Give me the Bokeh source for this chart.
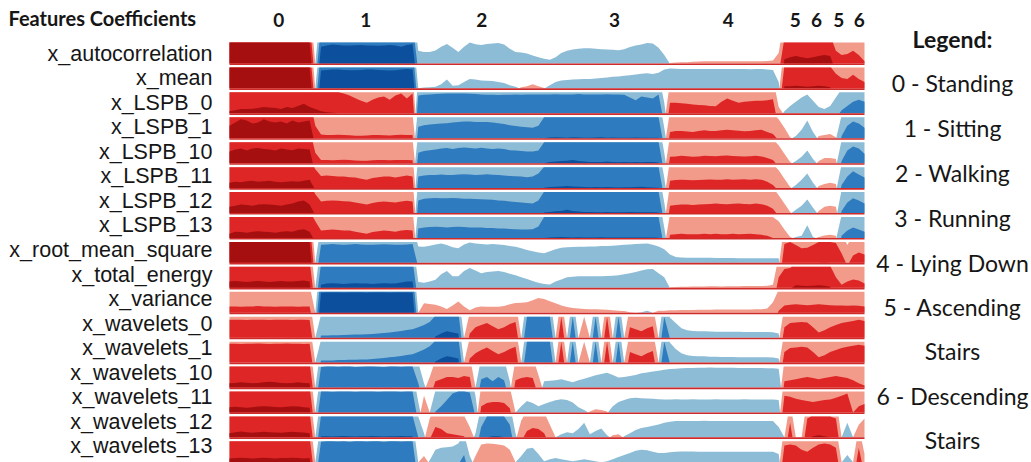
import numpy as np
from bokeh.plotting import figure
from bokeh.models import Range1d
from bokeh.core.properties import value
from bokeh.embed import file_html
from bokeh.resources import INLINE

features = ["x_autocorrelation", "x_mean", "x_LSPB_0", "x_LSPB_1", "x_LSPB_10",
            "x_LSPB_11", "x_LSPB_12", "x_LSPB_13", "x_root_mean_square",
            "x_total_energy", "x_variance", "x_wavelets_0", "x_wavelets_1",
            "x_wavelets_10", "x_wavelets_11", "x_wavelets_12", "x_wavelets_13"]

time_index = list(range(112))

header_labels = ["0", "1", "2", "3", "4", "5", "6", "5", "6"]
header_positions = [8.6, 23.8, 44.1, 67.3, 87.2, 98.9, 102.6, 106.5, 110.1]

legend_lines = ["Legend:", "0 - Standing", "1 - Sitting", "2 - Walking", "3 - Running",
                "4 - Lying Down", "5 - Ascending", "Stairs", "6 - Descending", "Stairs"]

x_autocorrelation = [
    3.0, 3.0, 3.0, 3.0, 3.0, 3.0, 3.0, 3.0, 3.0, 3.0, 3.0, 3.0, 3.0, 3.0, 3.0,
    0.0,
    -2.8, -2.85, -2.9, -2.88, -2.86, -2.85, -2.87, -2.88, -2.86, -2.85, -2.84, -2.86, -2.88, -2.85, -2.8, -2.88, -2.92,
    -0.6, -0.55, -0.55, -0.62, -0.8, -0.93, -0.75, -0.55, -0.8, -1.0, -0.92, -0.88, -0.93, -0.95, -0.97, -0.9, -0.7, -0.55, -0.52, -0.47, -0.38, -0.3,
    -0.22, -0.17, -0.3, -0.5, -0.6, -0.66, -0.7, -0.72, -0.72, -0.7, -0.68, -0.67, -0.65, -0.63, -0.68, -0.78, -0.85, -0.9, -0.97, -0.95, -0.75,
    -0.4,
    0.02, 0.04, 0.05, 0.06, 0.08, 0.09, 0.1, 0.1, 0.1, 0.1, 0.1, 0.1, 0.1, 0.1, 0.1, 0.1, 0.1, 0.11, 0.14,
    0.5, 2.2, 2.3, 2.35, 2.3, 2.25, 2.3, 2.35, 2.4, 2.35, 1.6, 1.4, 1.45, 1.6, 1.4, 1.1]

x_mean = [
    3.0, 3.0, 3.0, 3.0, 3.0, 3.0, 3.0, 3.0, 3.0, 3.0, 3.0, 3.0, 3.0, 3.0, 3.0,
    0.0,
    -2.85, -2.88, -2.9, -2.9, -2.88, -2.87, -2.86, -2.88, -2.9, -2.9, -2.88, -2.86, -2.85, -2.87, -2.9, -2.92, -2.9,
    0.0, -0.04, -0.05, -0.08, -0.2, -0.42, -0.12, -0.15, -0.3, -0.45, -0.42, -0.38, -0.36, -0.35, -0.3, -0.25, -0.15, -0.08, 0.05, 0.1, 0.2, 0.1,
    0.02, -0.15, -0.3, -0.38, -0.4, -0.42, -0.43, -0.45, -0.45, -0.47, -0.5, -0.52, -0.55, -0.57, -0.6, -0.62, -0.66, -0.7, -0.72, -0.68, -0.75,
    -0.9,
    -0.95, -0.94, -0.93, -0.93, -0.92, -0.92, -0.93, -0.93, -0.92, -0.92, -0.92, -0.93, -0.92, -0.92, -0.91, -0.92, -0.92, -0.9, -0.88,
    -0.3, 2.1, 2.1, 2.12, 2.1, 2.08, 2.1, 2.12, 2.1, 2.05, 1.7, 1.5, 1.45, 1.65, 1.45, 1.3]

x_LSPB_0 = [
    2.1, 2.15, 2.2, 2.2, 2.22, 2.25, 2.3, 2.28, 2.25, 2.2, 2.3, 2.25, 2.35, 2.45, 2.3,
    2.2,
    2.1, 2.05, 2.02, 2.0, 1.95, 1.85, 1.72, 1.6, 1.5, 1.65, 1.75, 1.8, 1.65, 1.85, 1.95, 1.7, 1.95,
    -1.85, -1.88, -1.9, -1.92, -1.93, -1.95, -1.95, -1.95, -1.94, -1.93, -1.92, -1.9, -1.88, -1.88, -1.87, -1.88, -1.88, -1.9, -1.89, -1.9, -1.9, -1.9,
    -1.9, -1.9, -1.91, -1.9, -1.9, -1.9, -1.92, -1.9, -1.9, -1.9, -1.9, -1.91, -1.9, -1.9, -1.88, -1.75, -1.62, -1.8, -1.75, -1.7, -1.9,
    -0.5,
    1.5, 1.5, 1.48, 1.45, 1.42, 1.4, 1.38, 1.35, 1.33, 1.55, 1.7, 1.6, 1.5, 1.55, 1.58, 1.6, 1.6, 1.62, 1.67,
    0.3, -0.1, -0.35, -0.55, -0.75, -0.9, -0.6, -0.3, -0.2, -0.35, -0.75, -1.15, -1.35, -1.55, -1.65, -1.55]

x_LSPB_1 = [
    2.6, 2.75, 2.9, 2.85, 2.7, 2.75, 2.9, 2.8, 2.75, 2.8, 2.7, 2.85, 2.75, 2.8, 2.85,
    1.6,
    1.18, 1.15, 1.15, 1.16, 1.15, 1.14, 1.12, 1.12, 1.13, 1.15, 1.15, 1.14, 1.13, 1.15, 1.16, 1.15, 1.15,
    -1.55, -1.62, -1.65, -1.68, -1.7, -1.72, -1.75, -1.78, -1.8, -1.8, -1.78, -1.77, -1.78, -1.75, -1.72, -1.68, -1.62, -1.58, -1.55, -1.52, -1.5, -1.6,
    -2.0, -2.03, -2.05, -2.03, -2.02, -2.04, -2.03, -2.02, -2.02, -2.03, -2.04, -2.02, -2.03, -2.02, -2.02, -2.02, -2.03, -2.02, -2.02, -2.02, -2.02,
    -0.5,
    1.3, 1.35, 1.35, 1.32, 1.3, 1.35, 1.38, 1.35, 1.35, 1.38, 1.4, 1.38, 1.36, 1.33, 1.35, 1.38, 1.4, 1.3, 1.2,
    0.9, 0.5, 0.05, -0.1, -0.4, -0.85, -0.3, 0.1, 0.15, 0.2, 0.05, -1.1, -1.6, -1.8, -1.7, -1.5]

x_LSPB_10 = [
    2.55, 2.65, 2.7, 2.6, 2.7, 2.72, 2.68, 2.65, 2.6, 2.7, 2.65, 2.62, 2.7, 2.68, 2.65,
    1.5,
    1.15, 1.15, 1.14, 1.15, 1.16, 1.15, 1.13, 1.12, 1.12, 1.14, 1.15, 1.15, 1.14, 1.15, 1.15, 1.15, 1.14,
    -1.5, -1.58, -1.62, -1.65, -1.7, -1.72, -1.68, -1.72, -1.75, -1.72, -1.7, -1.73, -1.7, -1.68, -1.7, -1.67, -1.62, -1.6, -1.58, -1.55, -1.55, -1.6,
    -2.0, -2.05, -2.08, -2.1, -2.12, -2.15, -2.1, -2.08, -2.06, -2.05, -2.06, -2.08, -2.05, -2.04, -2.05, -2.04, -2.05, -2.04, -2.06, -2.05, -2.03,
    -0.5,
    1.3, 1.32, 1.35, 1.33, 1.3, 1.32, 1.35, 1.34, 1.33, 1.35, 1.36, 1.34, 1.33, 1.32, 1.33, 1.35, 1.32, 1.25, 1.15,
    0.85, 0.45, 0.05, -0.1, -0.3, -0.6, -0.2, 0.1, 0.25, 0.25, 0.2, -1.1, -1.6, -1.8, -1.7, -1.45]

x_LSPB_11 = [
    2.25, 2.3, 2.28, 2.32, 2.35, 2.3, 2.33, 2.35, 2.3, 2.28, 2.3, 2.32, 2.3, 2.35, 2.4,
    1.9,
    1.58, 1.6, 1.58, 1.55, 1.55, 1.52, 1.5, 1.45, 1.4, 1.48, 1.52, 1.55, 1.55, 1.5, 1.55, 1.6, 1.55,
    -1.55, -1.6, -1.62, -1.63, -1.65, -1.62, -1.63, -1.65, -1.66, -1.65, -1.63, -1.64, -1.66, -1.64, -1.62, -1.6, -1.58, -1.56, -1.55, -1.52, -1.55, -1.7,
    -2.02, -2.05, -2.06, -2.08, -2.1, -2.08, -2.06, -2.05, -2.04, -2.05, -2.04, -2.05, -2.04, -2.03, -2.04, -2.04, -2.05, -2.06, -2.04, -2.03, -2.02,
    -0.5,
    1.35, 1.38, 1.4, 1.38, 1.37, 1.38, 1.4, 1.41, 1.4, 1.4, 1.42, 1.4, 1.41, 1.42, 1.4, 1.42, 1.4, 1.3, 1.15,
    0.85, 0.45, 0.05, -0.15, -0.4, -0.7, -0.25, 0.1, 0.2, 0.25, 0.2, -1.15, -1.55, -1.8, -1.65, -1.5]

x_LSPB_12 = [
    2.3, 2.35, 2.4, 2.38, 2.35, 2.4, 2.42, 2.4, 2.38, 2.35, 2.4, 2.45, 2.55, 2.6, 2.4,
    1.9,
    1.55, 1.58, 1.6, 1.58, 1.56, 1.55, 1.5, 1.45, 1.4, 1.48, 1.52, 1.55, 1.53, 1.5, 1.55, 1.58, 1.55,
    -1.6, -1.68, -1.7, -1.72, -1.7, -1.7, -1.72, -1.7, -1.68, -1.68, -1.67, -1.66, -1.65, -1.63, -1.6, -1.58, -1.55, -1.52, -1.5, -1.48, -1.45, -1.6,
    -2.02, -2.05, -2.08, -2.1, -2.15, -2.1, -2.07, -2.05, -2.05, -2.04, -2.04, -2.05, -2.04, -2.03, -2.04, -2.05, -2.04, -2.04, -2.03, -2.03, -2.02,
    -0.5,
    1.35, 1.38, 1.4, 1.4, 1.38, 1.4, 1.42, 1.43, 1.45, 1.43, 1.42, 1.44, 1.45, 1.43, 1.42, 1.45, 1.42, 1.35, 1.2,
    0.85, 0.45, 0.05, -0.15, -0.35, -0.65, -0.25, 0.1, 0.3, 0.35, 0.3, -1.1, -1.5, -1.7, -1.6, -1.45]

x_LSPB_13 = [
    2.2, 2.3, 2.28, 2.25, 2.3, 2.32, 2.3, 2.28, 2.25, 2.3, 2.32, 2.3, 2.38, 2.42, 2.3,
    1.8,
    1.35, 1.38, 1.4, 1.38, 1.36, 1.35, 1.3, 1.25, 1.2, 1.28, 1.32, 1.35, 1.33, 1.3, 1.35, 1.38, 1.35,
    -1.45, -1.5, -1.52, -1.53, -1.52, -1.5, -1.52, -1.53, -1.52, -1.5, -1.5, -1.5, -1.48, -1.47, -1.45, -1.45, -1.43, -1.42, -1.4, -1.4, -1.42, -1.55,
    -2.0, -2.02, -2.03, -2.04, -2.03, -2.02, -2.03, -2.02, -2.02, -2.02, -2.03, -2.02, -2.02, -2.02, -2.02, -2.02, -2.02, -2.02, -2.02, -2.02, -2.01,
    -0.5,
    1.15, 1.18, 1.2, 1.18, 1.17, 1.18, 1.2, 1.18, 1.2, 1.18, 1.17, 1.2, 1.18, 1.19, 1.2, 1.18, 1.15, 1.1, 1.0,
    0.8, 0.4, 0.05, -0.05, -0.1, -0.6, -0.05, 0.05, 0.12, 0.15, 0.1, -1.1, -1.35, -1.5, -1.4, -1.3]

x_root_mean_square = [
    3.0, 3.0, 3.0, 3.0, 3.0, 3.0, 3.0, 3.0, 3.0, 3.0, 3.0, 3.0, 3.0, 3.0, 3.0,
    0.0,
    -1.86, -1.88, -1.9, -1.88, -1.87, -1.88, -1.9, -1.88, -1.86, -1.87, -1.88, -1.89, -1.88, -1.86, -1.87, -1.88, -1.9,
    -0.78, -0.77, -0.82, -0.88, -0.92, -0.85, -0.75, -0.7, -0.88, -0.97, -0.93, -0.9, -0.88, -0.9, -0.88, -0.85, -0.8, -0.77, -0.7, -0.62, -0.55, -0.5,
    -0.46, -0.55, -0.65, -0.72, -0.74, -0.76, -0.77, -0.77, -0.78, -0.78, -0.8, -0.8, -0.82, -0.84, -0.86, -0.88, -0.9, -0.91, -0.92, -0.86, -0.78,
    -0.65,
    -0.4, -0.28, -0.26, -0.25, -0.25, -0.24, -0.24, -0.24, -0.23, -0.23, -0.23, -0.23, -0.22, -0.22, -0.22, -0.22, -0.22, -0.22, -0.22,
    -0.22, 1.9, 2.0, 1.85, 1.7, 1.72, 1.85, 2.0, 2.02, 2.0, 1.95, 1.45, 0.85, 1.35, 1.5, 1.4]

x_total_energy = [
    2.3, 2.32, 2.3, 2.28, 2.3, 2.33, 2.3, 2.28, 2.3, 2.32, 2.3, 2.3, 2.32, 2.35, 2.3,
    0.0,
    -2.15, -2.2, -2.22, -2.2, -2.18, -2.2, -2.22, -2.2, -2.2, -2.18, -2.2, -2.22, -2.2, -2.2, -2.25, -2.3, -2.3,
    -0.28, -0.24, -0.3, -0.38, -0.65, -0.8, -0.55, -0.55, -0.8, -0.95, -0.82, -0.7, -0.75, -0.78, -0.8, -0.75, -0.67, -0.6, -0.5, -0.42, -0.32, -0.24,
    -0.18, -0.16, -0.3, -0.4, -0.5, -0.53, -0.55, -0.55, -0.55, -0.55, -0.55, -0.56, -0.58, -0.6, -0.65, -0.7, -0.75, -0.82, -0.88, -0.9, -0.7,
    -0.5,
    0.02, 0.04, 0.05, 0.05, 0.06, 0.06, 0.06, 0.07, 0.07, 0.06, 0.07, 0.07, 0.07, 0.08, 0.08, 0.08, 0.08, 0.1, 0.15,
    1.5, 1.9, 1.95, 2.12, 2.1, 2.08, 2.1, 2.12, 2.1, 2.05, 1.5, 1.15, 1.3, 1.4, 1.35, 1.2]

x_variance = [
    1.3, 1.3, 1.28, 1.3, 1.3, 1.32, 1.3, 1.3, 1.28, 1.3, 1.3, 1.3, 1.28, 1.3, 1.3,
    0.0,
    -2.95, -2.96, -2.97, -2.96, -2.95, -2.96, -2.97, -2.96, -2.95, -2.96, -2.97, -2.96, -2.95, -2.96, -2.97, -2.96, -2.95,
    0.0, 0.45, 0.42, 0.38, 0.3, 0.18, 0.35, 0.54, 0.3, 0.12, 0.25, 0.3, 0.28, 0.28, 0.28, 0.32, 0.4, 0.46, 0.48, 0.5, 0.6, 0.7,
    0.65, 0.55, 0.45, 0.35, 0.27, 0.22, 0.2, 0.18, 0.17, 0.16, 0.15, 0.14, 0.12, 0.1, 0.08, 0.02, 0.0, -0.02, -0.1, 0.0, 0.1,
    0.1,
    0.12, 0.12, 0.13, 0.13, 0.13, 0.14, 0.14, 0.14, 0.15, 0.15, 0.15, 0.15, 0.15, 0.15, 0.15, 0.16, 0.16, 0.2, 0.5,
    1.1, 1.35, 1.38, 1.4, 1.38, 1.36, 1.38, 1.4, 1.38, 1.36, 1.35, 1.35, 1.33, 1.35, 1.33, 1.3]

x_wavelets_0 = [
    1.85, 1.86, 1.85, 1.84, 1.85, 1.86, 1.85, 1.84, 1.85, 1.86, 1.85, 1.84, 1.85, 1.85, 1.84,
    0.0,
    -1.1, -1.1, -1.12, -1.12, -1.13, -1.14, -1.15, -1.15, -1.16, -1.18, -1.2, -1.22, -1.25, -1.28, -1.32, -1.36, -1.4,
    -1.5, -1.6, -1.75, -2.05, -2.2, -2.3, -2.25, -2.2, 0.0, 1.2, 1.5, 1.6, 1.7, 1.55, 1.4, 1.5, 1.65, 1.75, 0.0, -2.0, -2.0, -2.0,
    -2.0, -2.0, 0.0, 2.0, 0.0, -2.0, 0.0, 1.0, 0.0, -2.0, 0.0, 2.0, 0.0, -2.0, 0.0, 1.5, 1.4, 1.3, 1.45, 1.55, 0.0,
    -2.0,
    -0.95, -0.7, -0.45, -0.35, -0.32, -0.3, -0.3, -0.29, -0.28, -0.28, -0.28, -0.28, -0.28, -0.27, -0.27, -0.27, -0.27, -0.27, -0.26,
    -0.2, 1.5, 1.7, 1.72, 1.75, 1.72, 1.5, 1.25, 1.35, 1.5, 1.6, 1.7, 1.75, 1.8, 1.85, 1.8]

x_wavelets_1 = [
    1.9, 1.9, 1.89, 1.9, 1.9, 1.91, 1.9, 1.89, 1.9, 1.9, 1.91, 1.9, 1.9, 1.89, 1.9,
    0.0,
    -1.1, -1.1, -1.1, -1.12, -1.12, -1.13, -1.14, -1.15, -1.15, -1.17, -1.19, -1.22, -1.25, -1.28, -1.32, -1.36, -1.4,
    -1.5, -1.62, -1.78, -2.05, -2.2, -2.3, -2.25, -2.2, 0.0, 1.2, 1.45, 1.6, 1.72, 1.55, 1.4, 1.5, 1.65, 1.75, 0.0, -2.0, -2.0, -2.0,
    -2.0, -2.0, 0.0, 2.0, 0.0, -2.0, 0.0, 1.0, 0.0, -2.0, 0.0, 2.0, 0.0, -2.0, 0.0, 1.5, 1.4, 1.3, 1.45, 1.55, 0.0,
    -2.0,
    -0.95, -0.65, -0.45, -0.35, -0.32, -0.3, -0.3, -0.28, -0.28, -0.27, -0.27, -0.27, -0.26, -0.26, -0.26, -0.25, -0.25, -0.25, -0.24,
    -0.2, 1.5, 1.7, 1.72, 1.75, 1.72, 1.5, 1.25, 1.35, 1.5, 1.6, 1.7, 1.75, 1.8, 1.85, 1.8]

x_wavelets_10 = [
    2.2, 2.22, 2.25, 2.23, 2.2, 2.22, 2.25, 2.27, 2.25, 2.22, 2.2, 2.22, 2.25, 2.22, 2.2,
    0.0,
    -1.98, -2.0, -2.0, -1.99, -2.0, -2.0, -1.98, -1.99, -2.0, -2.0, -1.99, -1.98, -2.0, -2.0, -1.99, -2.0, -2.0,
    -1.2, -0.2, 0.5, 1.3, 1.4, 1.5, 1.5, 1.45, 1.55, 1.5, 0.0, -1.4, -1.5, -1.3, -1.5, -1.35, -0.3, 1.35, 1.45, 1.5, 1.45, 0.6,
    -0.3, -0.32, -0.35, -0.4, -0.32, -0.25, -0.35, -0.42, -0.5, -0.58, -0.65, -0.7, -0.6, -0.48, -0.5, -0.55, -0.6, -0.68, -0.72, -0.76, -0.8,
    -0.85,
    -0.88, -0.9, -0.92, -0.93, -0.93, -0.94, -0.94, -0.95, -0.94, -0.94, -0.94, -0.94, -0.93, -0.93, -0.93, -0.93, -0.93, -0.92, -0.92,
    -0.9, 1.3, 1.35, 1.4, 1.45, 1.5, 1.45, 1.4, 1.45, 1.5, 1.55, 1.5, 1.45, 1.35, 1.2, 1.1]

x_wavelets_11 = [
    2.25, 2.27, 2.25, 2.22, 2.25, 2.28, 2.3, 2.28, 2.26, 2.25, 2.27, 2.3, 2.28, 2.25, 2.22,
    0.0,
    -2.0, -2.0, -1.99, -2.0, -2.0, -2.0, -1.99, -2.0, -2.0, -2.0, -1.99, -2.0, -2.0, -2.0, -1.99, -2.0, -2.0,
    -0.5, 0.8, 0.0, -1.05, -1.3, -1.6, -1.9, -2.0, -2.0, -1.95, -0.8, 1.3, 1.45, 1.5, 1.5, 1.45, 1.2, 0.0, -0.3, -0.55, -0.45, -0.3,
    -0.4, -0.5, -0.58, -0.63, -0.6, -0.48, -0.25, -0.12, 0.05, 0.15, 0.12, 0.05, -0.3, -0.5, -0.6, -0.68, -0.7, -0.68, -0.66, -0.65, -0.63,
    -0.62,
    -0.62, -0.63, -0.62, -0.62, -0.63, -0.62, -0.62, -0.62, -0.63, -0.62, -0.62, -0.62, -0.62, -0.63, -0.62, -0.62, -0.62, -0.62, -0.62,
    -0.6, 1.8, 1.75, 1.65, 1.6, 1.55, 1.5, 1.55, 1.6, 1.62, 1.7, 1.8, 1.9, 1.0, 1.3, 1.4]

x_wavelets_12 = [
    2.2, 2.25, 2.28, 2.25, 2.22, 2.25, 2.27, 2.25, 2.23, 2.22, 2.25, 2.27, 2.25, 2.23, 2.2,
    0.0,
    -2.05, -2.05, -2.04, -2.05, -2.06, -2.05, -2.04, -2.05, -2.05, -2.06, -2.05, -2.04, -2.05, -2.05, -2.06, -2.05, -2.05,
    -1.0, -0.2, 0.9, 1.5, 1.4, 1.2, 1.15, 1.1, 1.05, 0.5, -0.2, -1.5, -2.0, -2.05, -2.05, -2.0, -1.6, -0.2, 0.8, 1.3, 1.45, 1.4,
    1.2, 0.6, 0.0, -0.15, -0.25, -0.2, -0.4, -0.7, -0.15, -0.3, -0.42, -0.1, 0.1, 0.15, -0.05, -0.2, -0.35, -0.45, -0.5, -0.55, -0.62,
    -0.7,
    -0.75, -0.78, -0.78, -0.78, -0.78, -0.78, -0.79, -0.78, -0.78, -0.78, -0.78, -0.78, -0.78, -0.78, -0.78, -0.78, -0.78, -0.78, -0.78,
    -0.5, 0.0, 1.7, 0.0, 0.0, 1.9, 2.05, 2.1, 2.05, 2.0, 1.9, 0.0, -0.7, 0.0, 0.6, 0.9]

x_wavelets_13 = [
    2.18, 2.2, 2.22, 2.2, 2.18, 2.2, 2.22, 2.2, 2.18, 2.2, 2.2, 2.22, 2.2, 2.18, 2.2,
    0.0,
    -1.98, -2.0, -2.0, -1.99, -2.0, -1.98, -2.0, -2.0, -1.99, -2.0, -2.0, -1.98, -2.0, -2.0, -1.99, -2.0, -2.0,
    0.0, 0.3, -0.1, -0.6, -0.7, -0.72, -0.75, -0.9, -1.35, -0.3, 0.3, 0.85, 0.9, 0.88, 0.85, 0.8, 0.6, 0.0, -0.3, -0.65, -0.7, -0.4,
    -0.05, -0.15, -0.2, -0.15, -0.1, -0.05, -0.1, -0.15, -0.1, -0.05, 0.0, -0.05, -0.15, -0.25, -0.35, -0.45, -0.55, -0.6, -0.58, -0.5, -0.45,
    -0.45,
    -0.48, -0.5, -0.52, -0.52, -0.52, -0.5, -0.5, -0.5, -0.5, -0.5, -0.5, -0.5, -0.5, -0.5, -0.5, -0.5, -0.5, -0.5, -0.5,
    -0.4, 1.8, 1.85, 1.8, 1.6, 1.5, 1.7, 1.85, 1.9, 1.85, 1.7, 0.0, -0.35, 0.0, 1.7, 0.4]

series = [x_autocorrelation, x_mean, x_LSPB_0, x_LSPB_1, x_LSPB_10, x_LSPB_11,
          x_LSPB_12, x_LSPB_13, x_root_mean_square, x_total_energy, x_variance,
          x_wavelets_0, x_wavelets_1, x_wavelets_10, x_wavelets_11, x_wavelets_12,
          x_wavelets_13]

for name, s in zip(features, series):
    assert len(s) == len(time_index), (name, len(s))

reds = ["#f29b8b", "#df2626", "#a50f10"]
blues = ["#8dbcd6", "#2f7bbf", "#0b4f9d"]
BAND_LO, BAND_H = 0.08, 0.84

# ---- layout (page pixels) ----
W, H = 1031, 462
PLOT_LEFT_PX, STEP_PX = 229.0, 635.0 / 111.0
PITCH_PX, Y_START = 24.93, 0.072
LABEL_TOP_PX, LABEL_PITCH_PX = 53.0, 24.56


def px_x(px):
    return (px - PLOT_LEFT_PX) / STEP_PX


def px_y(py):
    return Y_START + (H - py) / PITCH_PX


def densify(t, v):
    """Add the points where the linear series crosses a band threshold."""
    xs, ys = [t[0]], [v[0]]
    for k in range(len(v) - 1):
        a, b = v[k], v[k + 1]
        cuts = []
        for th in (-2.0, -1.0, 0.0, 1.0, 2.0):
            if (a - th) * (b - th) < 0:
                cuts.append((th - a) / (b - a))
        for c in sorted(cuts):
            xs.append(t[k] + c * (t[k + 1] - t[k]))
            ys.append(a + c * (b - a))
        xs.append(t[k + 1])
        ys.append(b)
    return np.array(xs, dtype=float), np.array(ys, dtype=float)


n_rows = len(features)
p = figure(width=W, height=H, x_range=Range1d(px_x(0), px_x(W)),
           y_range=Range1d(px_y(H), px_y(0)),
           output_backend="svg", toolbar_location=None,
           x_axis_location=None, y_axis_location=None, min_border=0)
p.xgrid.visible = False
p.ygrid.visible = False
p.outline_line_color = None
p.background_fill_color = "white"
p.border_fill_color = "white"

for r, s in enumerate(series):
    base = n_rows - 1 - r + BAND_LO
    xs, ys = densify(time_index, s)
    pos = np.clip(ys, 0, None)
    neg = np.clip(-ys, 0, None)
    for part, cols in ((pos, reds), (neg, blues)):
        for k, col in enumerate(cols):
            h = np.clip(part - k, 0, 1)
            if h.max() <= 0:
                continue
            p.varea(x=xs, y1=np.full_like(xs, base), y2=base + BAND_H * h,
                    fill_color=col, fill_alpha=1.0)

rows_bottom = [n_rows - 1 - r + 0.015 for r in range(n_rows)]
rows_top = [n_rows - 1 - r + BAND_LO for r in range(n_rows)]
p.quad(left=[time_index[0]] * n_rows, right=[time_index[-1]] * n_rows,
       bottom=rows_bottom, top=rows_top, fill_color="#cf2b2b", line_color=None)

# row labels
label_ys = [px_y(LABEL_TOP_PX + LABEL_PITCH_PX * r) for r in range(n_rows)]
p.text(x=[px_x(212)] * n_rows, y=label_ys, text=features,
       text_font=value("Liberation Sans"), text_font_size=value("21.5px"),
       text_color="#161616", text_align="right", text_baseline="middle")

# header line
p.text(x=[px_x(8)], y=[px_y(17.8)], text=["Features Coefficients"],
       text_font=value("Lato"), text_font_style="bold", text_font_size=value("20px"),
       text_color="#161616", text_align="left", text_baseline="middle")
p.text(x=header_positions, y=[px_y(19.4)] * len(header_labels), text=header_labels,
       text_font=value("Lato"), text_font_style="bold", text_font_size=value("19px"),
       text_color="#161616", text_align="center", text_baseline="middle")

# legend
legend_centers_px = [38.5, 82, 127, 172, 217, 262, 306, 350, 395, 439]
p.text(x=[px_x(952)], y=[px_y(legend_centers_px[0])], text=legend_lines[:1],
       text_font=value("Lato"), text_font_style="bold", text_font_size=value("23px"),
       text_color="#161616", text_align="center", text_baseline="middle")
p.text(x=[px_x(952)] * (len(legend_lines) - 1),
       y=[px_y(c) for c in legend_centers_px[1:]], text=legend_lines[1:],
       text_font=value("Lato"), text_font_size=value("23px"),
       text_color="#161616", text_align="center", text_baseline="middle")

open("out.html", "w").write(file_html(p, INLINE))
